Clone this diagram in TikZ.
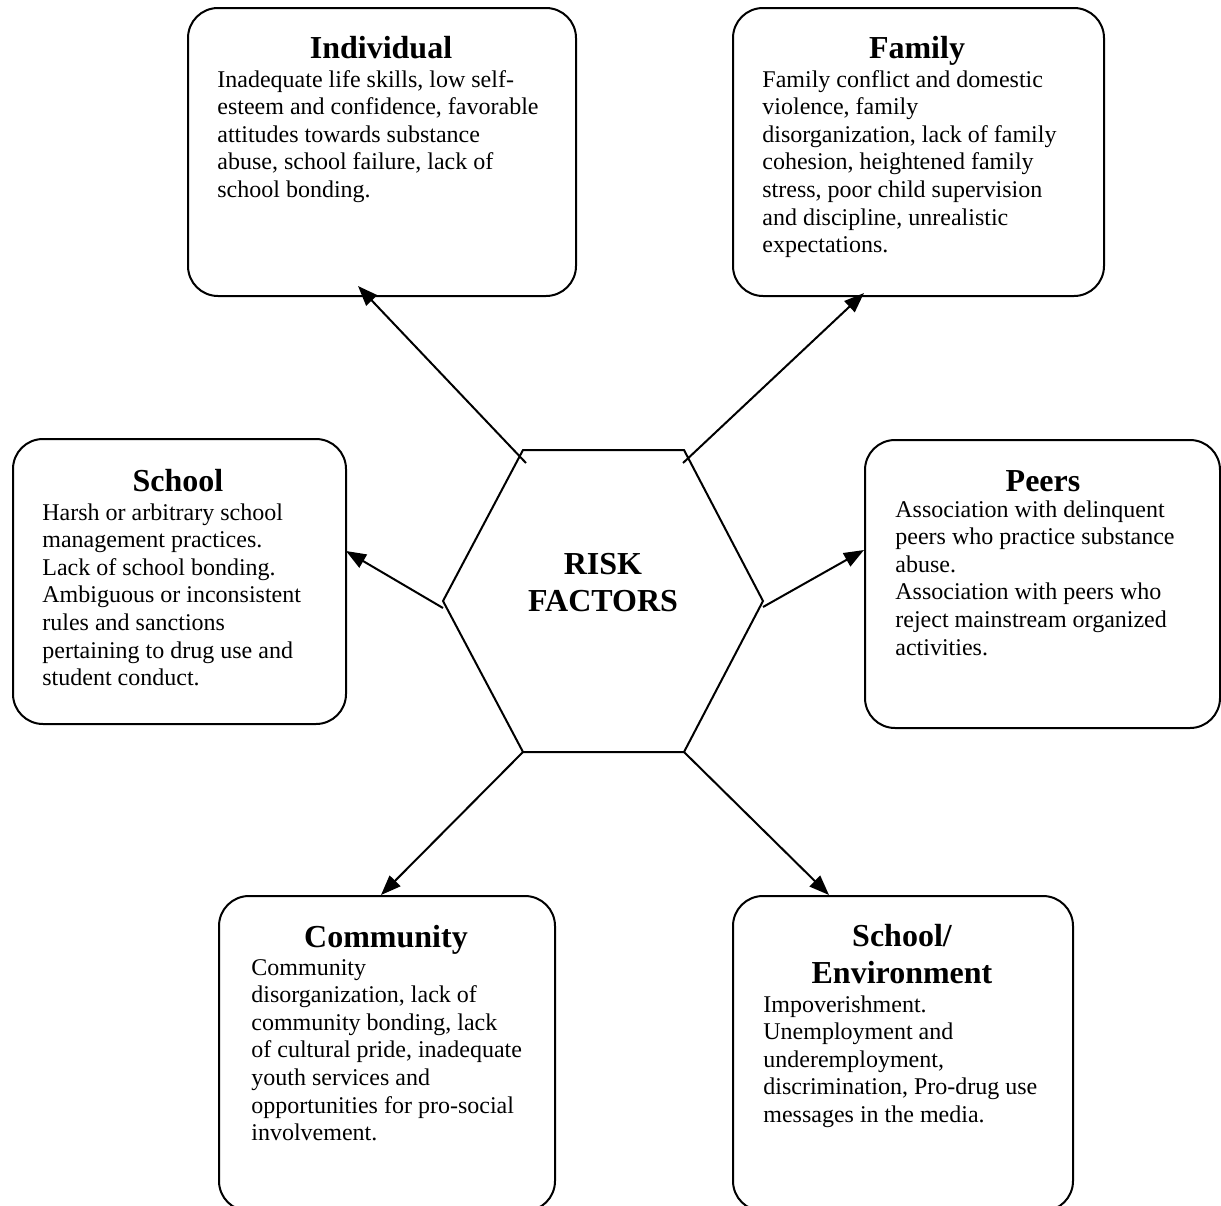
\documentclass[tikz,border=0pt]{standalone}
\usepackage{fontspec}
\setmainfont{Liberation Serif}
\usetikzlibrary{arrows.meta}
\begin{document}
\begin{tikzpicture}[x=0.5pt,y=-0.5pt,
  box/.style={draw, line width=1pt, rounded corners=15pt, inner sep=0pt, anchor=north west},
  ttl/.style={font=\fontsize{16}{18.2}\selectfont\bfseries, align=center, anchor=base, inner sep=0pt},
  bdy/.style={font=\fontsize{12}{13.8}\selectfont, align=left, anchor=base west, inner sep=0pt},
  arr/.style={line width=1pt, -{Triangle[length=10pt,width=7.5pt]}},
  hex/.style={line width=1pt, line join=miter}]
\useasboundingbox (0,0) rectangle (1221,1205);

% boxes
\node[box, minimum width=194pt, minimum height=144pt] (ind) at (187,7) {};
\node[box, minimum width=185.5pt, minimum height=144pt] (fam) at (732,7) {};
\node[box, minimum width=166.5pt, minimum height=142.5pt] (sch) at (12,438) {};
\node[box, minimum width=177.5pt, minimum height=144pt] (pee) at (864,439) {};
\node[box, minimum width=168pt, minimum height=157.5pt] (com) at (218,895) {};
\node[box, minimum width=170pt, minimum height=157.5pt] (env) at (732,895) {};

% titles (anchor = baseline of last line)
\node[ttl] (indT) at (381,58) {Individual};
\node[ttl] (famT) at (917,58) {Family};
\node[ttl] (schT) at (178,491) {School};
\node[ttl] (peeT) at (1043,491) {Peers};
\node[ttl] (comT) at (386,947) {Community};
\node[ttl] (envT) at (902,983) {School/\\Environment};

% bodies (anchor = baseline of last line)
\node[bdy] (indB) at (217,197.4) {Inadequate life skills, low self-\\esteem and confidence, favorable\\attitudes towards substance\\abuse, school failure, lack of\\school bonding.};
\node[bdy] (famB) at (762,252.6) {Family conflict and domestic\\violence, family\\disorganization, lack of family\\cohesion, heightened family\\stress, poor child supervision\\and discipline, unrealistic\\expectations.};
\node[bdy] (schB) at (42,685.6) {Harsh or arbitrary school\\management practices.\\Lack of school bonding.\\Ambiguous or inconsistent\\rules and sanctions\\pertaining to drug use and\\student conduct.};
\node[bdy] (peeB) at (895,655) {Association with delinquent\\peers who practice substance\\abuse.\\Association with peers who\\reject mainstream organized\\activities.};
\node[bdy] (comB) at (251,1140.6) {Community\\disorganization, lack of\\community bonding, lack\\of cultural pride, inadequate\\youth services and\\opportunities for pro-social\\involvement.};
\node[bdy] (envB) at (763,1122.4) {Impoverishment.\\Unemployment and\\underemployment,\\discrimination, Pro-drug use\\messages in the media.};

% hexagon
\coordinate (h1) at (523,450);
\coordinate (h2) at (684,450);
\coordinate (h3) at (763,601);
\coordinate (h4) at (684,752);
\coordinate (h5) at (523,752);
\coordinate (h6) at (443,601);
\draw[hex] (h1) -- (h2) -- (h3) -- (h4) -- (h5) -- (h6) -- cycle;
\node[ttl] (rf) at (603,611) {RISK\\FACTORS};

% arrow ends
\coordinate (a1) at (526,463);
\coordinate (b1) at (358,286);
\coordinate (a2) at (683,463);
\coordinate (b2) at (864,293);
\coordinate (a3) at (443,608);
\coordinate (b3) at (346,551);
\coordinate (a4) at (763,607);
\coordinate (b4) at (864,550);
\coordinate (a5) at (h5);
\coordinate (b5) at (381,895);
\coordinate (a6) at (h4);
\coordinate (b6) at (829,895);

\draw[arr] (a1) -- (b1);
\draw[arr] (a2) -- (b2);
\draw[arr] (a3) -- (b3);
\draw[arr] (a4) -- (b4);
\draw[arr] (a5) -- (b5);
\draw[arr] (a6) -- (b6);
\end{tikzpicture}
\end{document}
